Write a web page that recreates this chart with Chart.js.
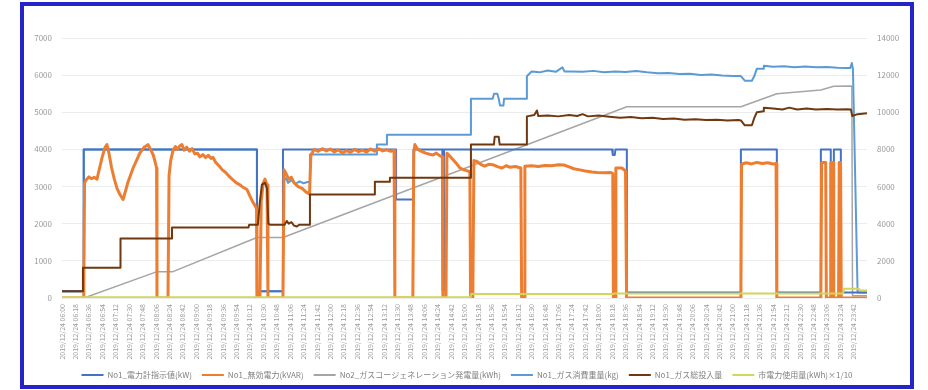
<!DOCTYPE html>
<html>
<head>
<meta charset="utf-8">
<script src="https://cdn.jsdelivr.net/npm/chart.js@4/dist/chart.umd.min.js"></script>
<style>
  html, body { margin: 0; padding: 0; background: #fff; width: 928px; height: 390px; overflow: hidden; }
  #frame { position: absolute; left: 20px; top: 2px; width: 886px; height: 379px; border: 4px solid #2424c8; background: #fff; }
  #frame canvas { display: block; }
</style>
</head>
<body>
<div id="frame"><canvas id="c" width="886" height="379"></canvas></div>
<script>
// Sampling times shown on the category axis (one label per interval)
const timeLabels = [
  "2019/12/24 06:00","2019/12/24 06:18","2019/12/24 06:36","2019/12/24 06:54","2019/12/24 07:12",
  "2019/12/24 07:30","2019/12/24 07:48","2019/12/24 08:06","2019/12/24 08:24","2019/12/24 08:42",
  "2019/12/24 09:00","2019/12/24 09:18","2019/12/24 09:36","2019/12/24 09:54","2019/12/24 10:12",
  "2019/12/24 10:30","2019/12/24 10:48","2019/12/24 11:06","2019/12/24 11:24","2019/12/24 11:42",
  "2019/12/24 12:00","2019/12/24 12:18","2019/12/24 12:36","2019/12/24 12:54","2019/12/24 13:12",
  "2019/12/24 13:30","2019/12/24 13:48","2019/12/24 14:06","2019/12/24 14:24","2019/12/24 14:42",
  "2019/12/24 15:00","2019/12/24 15:18","2019/12/24 15:36","2019/12/24 15:54","2019/12/24 16:12",
  "2019/12/24 16:30","2019/12/24 16:48","2019/12/24 17:06","2019/12/24 17:24","2019/12/24 17:42",
  "2019/12/24 18:00","2019/12/24 18:18","2019/12/24 18:36","2019/12/24 18:54","2019/12/24 19:12",
  "2019/12/24 19:30","2019/12/24 19:48","2019/12/24 20:06","2019/12/24 20:24","2019/12/24 20:42",
  "2019/12/24 21:00","2019/12/24 21:18","2019/12/24 21:36","2019/12/24 21:54","2019/12/24 22:12",
  "2019/12/24 22:30","2019/12/24 22:48","2019/12/24 23:06","2019/12/24 23:24","2019/12/24 23:42"
];

const seriesNames = [
  "No1_電力計指示値(kW)",
  "No1_無効電力(kVAR)",
  "No2_ガスコージェネレーション発電量(kWh)",
  "No1_ガス消費重量(kg)",
  "No1_ガス総投入量",
  "市電力使用量(kWh)×1/10"
];

// Readings as [time position (label intervals), value]
// No1 power meter reading (kW), left axis
const powerKW = [
  [0,180],[1.62,180],[1.62,4000],[14.53,4000],[14.53,180],[16.47,180],[16.47,4000],[24.9,4000],
  [24.9,2650],[26.2,2650],[26.2,4000],[28.35,4000],[28.37,200],[28.45,200],[28.47,4000],[41.0,4000],
  [41.05,3850],[41.2,3850],[41.25,4000],[42.1,4000],[42.1,150],[50.6,150],[50.6,4000],[53.28,4000],
  [53.28,150],[56.56,150],[56.56,4000],[57.3,4000],[57.3,150],[57.53,150],[57.53,4000],[58.05,4000],
  [58.05,150],[60,150]
];

// No1 reactive power (kVAR), left axis
const reactiveKVAR = [
  [0,0],[1.62,0],[1.68,3100],[1.8,3180],[2.0,3260],[2.2,3210],[2.4,3250],[2.61,3200],[2.8,3500],
  [3.0,3800],[3.2,4050],[3.35,4130],[3.5,3900],[3.7,3500],[3.9,3200],[4.1,2950],[4.3,2800],[4.55,2650],
  [4.75,2900],[4.9,3100],[5.1,3300],[5.3,3500],[5.55,3700],[5.8,3900],[6.1,4050],[6.41,4130],[6.6,4000],
  [6.8,3850],[6.95,3650],[7.05,3500],[7.08,0],[7.9,0],[7.98,3300],[8.1,3700],[8.27,3970],[8.45,4080],
  [8.6,4000],[8.8,4100],[8.94,4130],[9.1,3980],[9.3,4060],[9.5,3950],[9.7,4020],[9.9,3880],[10.1,3900],
  [10.28,3800],[10.5,3860],[10.7,3780],[10.9,3840],[11.1,3760],[11.25,3790],[11.45,3650],[11.7,3560],
  [11.95,3450],[12.2,3380],[12.5,3260],[12.74,3180],[13.0,3100],[13.25,3050],[13.5,2980],[13.79,2920],
  [14.0,2750],[14.2,2600],[14.4,2480],[14.5,2400],[14.53,0],[14.75,0],[14.85,2600],[15.0,3100],
  [15.13,3200],[15.28,3050],[15.35,0],[16.47,0],[16.55,3450],[16.7,3350],[16.9,3200],[17.1,3250],
  [17.3,3100],[17.6,3000],[17.9,2950],[18.2,2850],[18.45,2800],[18.55,3850],[18.8,4000],[19.1,3950],
  [19.4,4020],[19.7,3960],[20.0,4010],[20.3,3930],[20.6,3990],[20.9,3900],[21.2,3970],[21.5,3920],
  [21.8,4000],[22.1,3940],[22.4,3980],[22.7,3930],[23.0,4010],[23.3,3950],[23.6,4020],[23.9,3960],
  [24.2,3990],[24.5,3950],[24.75,3980],[24.81,0],[26.15,0],[26.22,3900],[26.3,4130],[26.5,4000],
  [26.8,3950],[27.1,3900],[27.4,3870],[27.65,3850],[27.9,3900],[28.2,3820],[28.35,3800],[28.39,0],
  [28.62,0],[28.69,3900],[28.9,3820],[29.2,3700],[29.45,3600],[29.66,3500],[29.9,3460],[30.15,3430],
  [30.4,3400],[30.45,0],[30.62,0],[30.7,3700],[30.9,3680],[31.2,3600],[31.5,3550],[31.8,3600],
  [32.19,3580],[32.5,3530],[32.8,3500],[33.1,3560],[33.4,3520],[33.8,3540],[34.2,3500],[34.26,0],
  [34.44,0],[34.5,3550],[35.0,3560],[35.5,3540],[36.0,3570],[36.5,3560],[37.0,3590],[37.41,3580],
  [37.8,3530],[38.15,3480],[38.6,3450],[39.0,3420],[39.5,3390],[39.87,3380],[40.4,3370],[40.91,3380],
  [41.05,3350],[41.1,0],[41.22,0],[41.28,3500],[41.73,3500],[42.0,3420],[42.08,0],[50.6,0],[50.65,3600],
  [51.0,3640],[51.4,3610],[51.8,3650],[52.2,3620],[52.6,3640],[53.0,3610],[53.22,3620],[53.28,0],
  [56.56,0],[56.62,3650],[56.92,3650],[56.97,0],[57.25,0],[57.3,3650],[57.48,3650],[57.52,0],
  [57.88,0],[57.93,3650],[58.03,3650],[58.08,0],[60,0]
];

// No2 cogeneration output (kWh), right axis
const cogenKWh = [
  [0,0],[1.64,0],[7.08,1420],[8.27,1420],[14.53,3260],[16.47,3260],[42.1,10300],[50.6,10300],
  [53.28,11000],[56.56,11200],[57.53,11400],[58.87,11420],[58.92,120],[60,120]
];

// No1 gas consumption (kg), right axis
const gasKg = [
  [0,370],[1.62,370],[1.62,8000],[14.53,8000],[14.53,370],[16.47,370],[16.47,6300],[16.7,6450],
  [16.85,6200],[17.1,6350],[17.4,6150],[17.7,6280],[18.0,6180],[18.3,6250],[18.48,6250],[18.48,7730],
  [23.47,7730],[23.47,8260],[24.22,8260],[24.22,8785],[30.48,8785],[30.48,10730],[32.1,10730],
  [32.2,11000],[32.45,11000],[32.55,10730],[32.65,10360],[32.9,10360],[32.95,10730],[34.65,10730],
  [34.65,11940],[35.0,12200],[35.6,12150],[36.2,12250],[36.8,12180],[37.3,12420],[37.45,12200],
  [38.0,12200],[38.8,12180],[39.6,12230],[40.4,12160],[41.2,12200],[42.0,12170],[42.8,12220],
  [43.6,12150],[44.4,12100],[45.2,12120],[46.0,12060],[46.8,12080],[47.6,12010],[48.4,12040],
  [49.2,11980],[50.0,11960],[50.6,11950],[50.89,11700],[51.42,11700],[51.6,11950],[51.79,12350],
  [52.31,12350],[52.31,12500],[53.0,12450],[53.8,12480],[54.6,12420],[55.4,12460],[56.2,12430],
  [57.0,12440],[57.8,12400],[58.5,12380],[58.75,12380],[58.87,12650],[58.95,12350],[59.3,300],[60,300]
];

// No1 total gas input, right axis
const gasInput = [
  [0,370],[1.56,370],[1.56,1630],[4.36,1630],[4.36,3210],[8.2,3210],[8.2,3790],[13.9,3790],
  [13.95,3950],[14.6,3950],[14.75,5200],[14.9,6100],[15.13,6200],[15.28,5900],[15.38,4000],[15.5,3950],
  [16.6,3950],[16.75,4150],[16.9,4000],[17.1,4080],[17.3,3900],[17.5,3850],[17.7,3950],[18.48,3950],
  [18.48,5575],[23.32,5575],[23.32,6260],[24.44,6260],[24.44,6470],[30.48,6470],[30.48,8260],
  [32.19,8260],[32.25,8680],[32.55,8680],[32.62,8260],[34.65,8260],[34.65,9780],[35.2,9850],
  [35.4,10100],[35.5,9800],[36.2,9830],[37.0,9780],[37.8,9850],[38.4,9800],[38.8,9900],[39.2,9780],
  [40.0,9830],[40.8,9760],[41.6,9700],[42.4,9740],[43.2,9680],[44.0,9700],[44.8,9640],[45.6,9660],
  [46.4,9600],[47.2,9620],[48.0,9580],[48.8,9600],[49.6,9560],[50.4,9580],[50.6,9560],[50.89,9300],
  [51.42,9300],[51.6,9700],[51.79,10000],[52.31,10050],[52.31,10250],[53.0,10200],[53.7,10150],
  [54.2,10250],[54.8,10150],[55.5,10200],[56.2,10150],[57.0,10180],[57.8,10150],[58.5,10160],
  [58.8,10150],[58.9,9800],[59.3,9900],[60,9950]
];

// Utility power usage (kWh x 1/10), left axis
const gridKWh = [
  [0,20],[30.45,20],[30.5,110],[41.1,110],[41.15,120],[58.2,120],[58.3,250],[59.4,250],[59.5,200],[60,200]
];

const FONT = "'Noto Sans CJK JP', 'Noto Sans', sans-serif";
const TICK_COLOR = '#9a9a9a';
const toXY = pairs => pairs.map(([x, y]) => ({ x, y }));

function lineSet(label, pairs, color, width, axis, order) {
  return {
    label, data: toXY(pairs), yAxisID: axis, order,
    borderColor: color, backgroundColor: color, borderWidth: width,
    pointRadius: 0, tension: 0, fill: false, borderJoinStyle: 'round'
  };
}

new Chart(document.getElementById('c'), {
  type: 'line',
  data: {
    datasets: [
      lineSet(seriesNames[0], powerKW, '#4472C4', 2, 'y', 3),
      lineSet(seriesNames[1], reactiveKVAR, '#ED7D31', 3, 'y', 2),
      lineSet(seriesNames[2], cogenKWh, '#A5A5A5', 1.5, 'y1', 5),
      lineSet(seriesNames[3], gasKg, '#5B9BD5', 2, 'y1', 4),
      lineSet(seriesNames[4], gasInput, '#70380F', 2, 'y1', 0),
      lineSet(seriesNames[5], gridKWh, '#D2D65A', 2, 'y', 1)
    ]
  },
  options: {
    responsive: false,
    animation: false,
    events: [],
    layout: { padding: { top: 32, left: 0, right: 0, bottom: -4 } },
    plugins: {
      tooltip: { enabled: false },
      legend: {
        position: 'bottom',
        labels: {
          boxWidth: 22, boxHeight: 2, padding: 10,
          color: '#7f7f7f', font: { size: 8, family: FONT },
          sort: (a, b) => a.datasetIndex - b.datasetIndex,
          generateLabels: chart => Chart.defaults.plugins.legend.labels.generateLabels(chart)
            .map(item => Object.assign(item, { lineWidth: 0, fillStyle: item.strokeStyle }))
        }
      }
    },
    scales: {
      x: {
        type: 'linear', min: 0, max: 60,
        grid: { display: false, drawTicks: false },
        border: { display: false },
        ticks: {
          stepSize: 1, autoSkip: false, minRotation: 90, maxRotation: 90, padding: 6,
          color: TICK_COLOR, font: { size: 7, family: FONT },
          callback: v => timeLabels[Math.round(v)] ?? ''
        },
        afterFit: s => { s.height = 63; }
      },
      y: {
        position: 'left', min: 0, max: 7000,
        grid: { color: '#ececec', drawTicks: false },
        border: { display: false },
        ticks: { stepSize: 1000, padding: 10, color: TICK_COLOR, font: { size: 8, family: FONT },
                 callback: v => String(v) },
        afterFit: s => { s.width = 38; }
      },
      y1: {
        position: 'right', min: 0, max: 14000,
        grid: { display: false, drawTicks: false },
        border: { display: false },
        ticks: { stepSize: 2000, padding: 10, color: TICK_COLOR, font: { size: 8, family: FONT },
                 callback: v => String(v) },
        afterFit: s => { s.width = 43; }
      }
    }
  }
});
</script>
</body>
</html>
